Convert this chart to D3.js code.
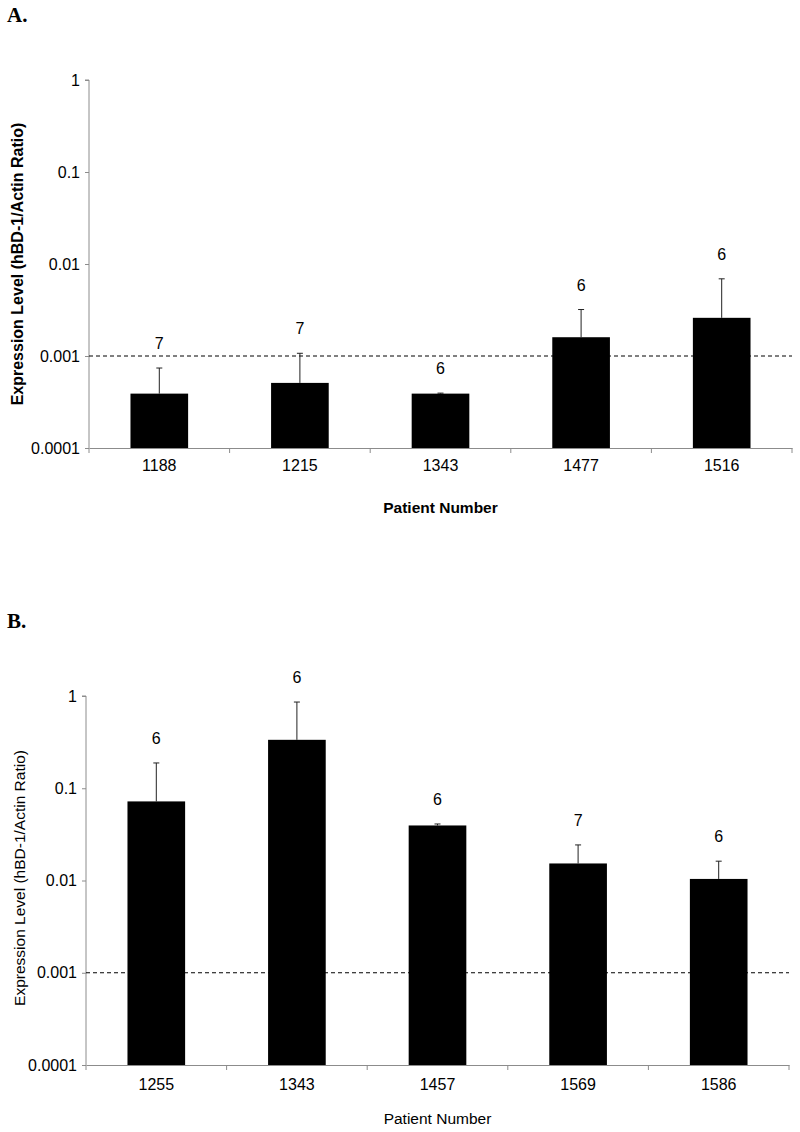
<!DOCTYPE html>
<html>
<head>
<meta charset="utf-8">
<script src="https://cdn.jsdelivr.net/npm/d3@7"></script>
<style>
  html, body { margin: 0; padding: 0; background: #fff; }
  svg { display: block; }
  text { font-family: "Liberation Sans", Arial, sans-serif; fill: #000; }
</style>
</head>
<body>
<svg id="chart" width="800" height="1132"></svg>
<script>
// ---------- data ----------
const yTickValues = [1, 0.1, 0.01, 0.001, 0.0001];
const yTickLabels = ["1", "0.1", "0.01", "0.001", "0.0001"];
const threshold = 0.001;

const patientsA = ["1188", "1215", "1343", "1477", "1516"];
const meanA     = [0.00039, 0.00051, 0.00039, 0.0016, 0.0026];
const errTopA   = [0.00074, 0.00107, 0.000395, 0.0032, 0.0069];
const nA        = [7, 7, 6, 6, 6];

const patientsB = ["1255", "1343", "1457", "1569", "1586"];
const meanB     = [0.072, 0.335, 0.0395, 0.0153, 0.0104];
const errTopB   = [0.188, 0.86, 0.041, 0.0243, 0.0162];
const nB        = [6, 6, 6, 7, 6];

const yTitle = "Expression Level (hBD-1/Actin Ratio)";
const xTitle = "Patient Number";

// ---------- drawing ----------
const svg = d3.select("#chart");
const axisColor = "#8c8c8c";
const labelSize = "16px";

function panel(opts) {
  const g = svg.append("g");
  const x = d3.scaleBand().domain(opts.cats)
    .range([opts.x0, opts.x1]).paddingInner(0.59).paddingOuter(0.295);
  const y = d3.scaleLog().domain([0.0001, 1]).range([opts.yBottom, opts.yTop]);

  // panel letter
  g.append("text").attr("x", 7).attr("y", opts.letterY)
    .style("font-family", "'Liberation Serif', 'Times New Roman', serif")
    .style("font-weight", "bold").style("font-size", "21px")
    .text(opts.letter);

  // y axis
  const ya = g.append("g").attr("transform", `translate(${opts.x0},0)`)
    .call(d3.axisLeft(y).tickValues(yTickValues)
      .tickFormat((d, i) => yTickLabels[i]).tickSize(4).tickPadding(5));
  ya.select(".domain").attr("stroke", axisColor).attr("d", `M-4,${opts.yTop}H0V${opts.yBottom}`);
  ya.selectAll(".tick line").attr("stroke", axisColor);
  ya.selectAll(".tick text").style("font-size", labelSize)
    .style("font-family", "'Liberation Sans', Arial, sans-serif").attr("fill", "#000");

  // dashed threshold line
  g.append("line")
    .attr("x1", opts.x0).attr("x2", opts.x1)
    .attr("y1", y(threshold)).attr("y2", y(threshold))
    .attr("stroke", "#000").attr("stroke-width", 1).attr("stroke-dasharray", "4,3");

  // x axis
  const xa = g.append("g").attr("transform", `translate(0,${opts.yBottom})`)
    .call(d3.axisBottom(x).tickSize(0).tickPadding(opts.xPad));
  xa.select(".domain").attr("stroke", axisColor);
  xa.selectAll(".tick text").style("font-size", labelSize)
    .style("font-family", "'Liberation Sans', Arial, sans-serif").attr("fill", "#000");
  const gap = (x.step() - x.bandwidth()) / 2;
  const bounds = opts.cats.map(c => x(c) - gap).concat([x(opts.cats[opts.cats.length - 1]) + x.bandwidth() + gap]);
  xa.selectAll(".bound").data(bounds).enter().append("line")
    .attr("x1", d => d).attr("x2", d => d).attr("y1", 0).attr("y2", 5)
    .attr("stroke", axisColor);

  // error bars (upper half only)
  const eb = g.append("g");
  opts.cats.forEach((c, i) => {
    const cx = x(c) + x.bandwidth() / 2;
    eb.append("line").attr("x1", cx).attr("x2", cx)
      .attr("y1", y(opts.mean[i])).attr("y2", y(opts.err[i]))
      .attr("stroke", "#222").attr("stroke-width", 1);
    eb.append("line").attr("x1", cx - 3).attr("x2", cx + 3)
      .attr("y1", y(opts.err[i])).attr("y2", y(opts.err[i]))
      .attr("stroke", "#222").attr("stroke-width", 1);
  });

  // bars
  g.append("g").selectAll("rect").data(opts.cats).enter().append("rect")
    .attr("x", c => x(c))
    .attr("width", x.bandwidth())
    .attr("y", (c, i) => y(opts.mean[i]))
    .attr("height", (c, i) => opts.yBottom - y(opts.mean[i]))
    .attr("fill", "#000");

  // n labels
  g.append("g").selectAll("text").data(opts.cats).enter().append("text")
    .attr("x", c => x(c) + x.bandwidth() / 2)
    .attr("y", (c, i) => y(opts.err[i]) - 19)
    .attr("text-anchor", "middle").style("font-size", labelSize)
    .text((c, i) => opts.n[i]);

  // axis titles
  g.append("text")
    .attr("transform", `translate(${opts.yTitleX},${opts.yTitleY}) rotate(-90)`)
    .attr("text-anchor", "middle")
    .style("font-size", opts.yTitleSize).style("font-weight", opts.titleWeight)
    .text(yTitle);
  g.append("text")
    .attr("x", (opts.x0 + opts.x1) / 2).attr("y", opts.xTitleY)
    .attr("text-anchor", "middle")
    .style("font-size", opts.titleSize).style("font-weight", opts.titleWeight)
    .text(xTitle);
}

panel({
  letter: "A.", letterY: 22,
  cats: patientsA, mean: meanA, err: errTopA, n: nA,
  x0: 89, x1: 792, yTop: 80, yBottom: 448, xPad: 12,
  yTitleX: 23, yTitleY: 264, xTitleY: 513,
  titleSize: "15.5px", yTitleSize: "16px", titleWeight: "bold"
});

panel({
  letter: "B.", letterY: 628,
  cats: patientsB, mean: meanB, err: errTopB, n: nB,
  x0: 86, x1: 789, yTop: 696, yBottom: 1065, xPad: 14,
  yTitleX: 25, yTitleY: 878, xTitleY: 1124,
  titleSize: "15.5px", yTitleSize: "15.5px", titleWeight: "normal"
});
</script>
</body>
</html>
